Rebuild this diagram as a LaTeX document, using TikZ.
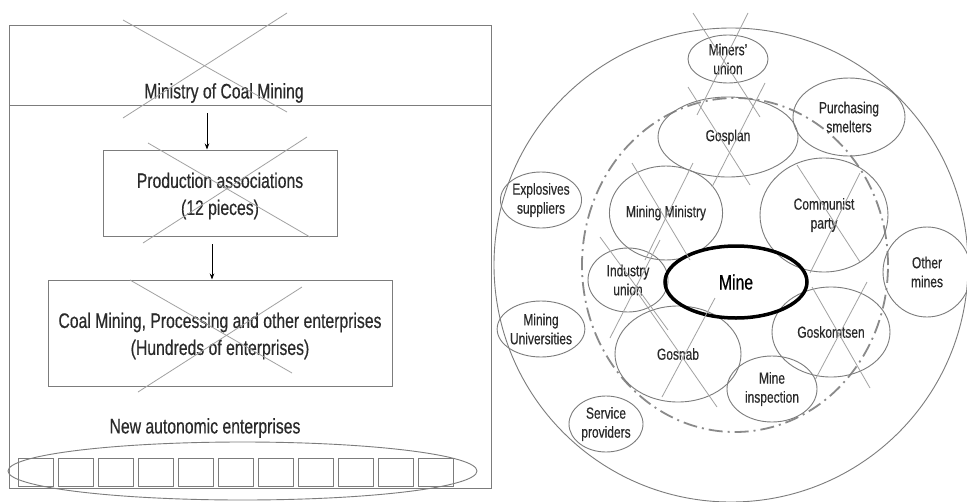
\documentclass[tikz,border=0pt]{standalone}
\usepackage{fontspec}
\setmainfont{Liberation Sans}[FakeStretch=0.75,FakeBold=0.4]
\usetikzlibrary{shapes.geometric,arrows.meta}
\definecolor{frame}{HTML}{7C7C7C}
\definecolor{strike}{HTML}{A2A2A2}
\definecolor{ink}{HTML}{2A2A2A}
\definecolor{ringgray}{HTML}{8A8A8A}
\begin{document}
\begin{tikzpicture}[x=1pt,y=-1pt,
  lefttext/.style={text=ink, font=\fontsize{21}{27}\selectfont, align=center, inner sep=0pt},
  boxnode/.style={draw=frame, line width=1pt, rectangle, inner sep=0pt},
  smallbox/.style={draw=frame, line width=0.9pt, rectangle, minimum width=35pt, minimum height=28pt, inner sep=0pt},
  org/.style={draw=frame, line width=0.9pt, ellipse, inner sep=0pt, align=center, text=ink,
              font=\fontsize{16}{19}\selectfont},
  cross/.style={draw=strike, line width=0.8pt},
  flow/.style={-{Stealth[length=6pt,width=4.5pt]}, line width=0.8pt, black},
  ring/.style={draw=ringgray, line width=1.8pt, dash pattern=on 14pt off 5pt on 2pt off 5pt}
]
\useasboundingbox (0,0) rectangle (967,501);
\fill[white] (0,0) rectangle (967,501);

% ---------------- left: hierarchy of the coal industry ----------------
\node[boxnode, minimum width=482pt, minimum height=463pt] (board) at (250,256.5) {};
\coordinate (divL) at (9,105);
\coordinate (divR) at (491,105);
\draw[draw=frame, line width=1pt] (divL) -- (divR);
\node[lefttext] (ministry) at (224,93) {Ministry of Coal Mining};

\node[boxnode, minimum width=234pt, minimum height=86pt] (prod) at (220,193) {};
\node[lefttext] (prodtext) at (220,196) {Production associations\\(12 pieces)};

\node[boxnode, minimum width=344pt, minimum height=106pt] (coal) at (220,333) {};
\node[lefttext] (coaltext) at (220,336) {Coal Mining, Processing and other enterprises\\(Hundreds of enterprises)};

\coordinate (a1) at (207,113);
\draw[flow] (a1) -- (a1 |- prod.north);
\coordinate (a2) at (212,244);
\draw[flow] (a2) -- (a2 |- coal.north);

% struck-out levels
\draw[cross] (123,20) -- (287,112);
\draw[cross] (287,13) -- (123,118);
\draw[cross] (148,143) -- (310,237);
\draw[cross] (307,137) -- (143,243);
\draw[cross] (130,280) -- (292,373);
\draw[cross] (302,287) -- (138,392);

\node[lefttext] (newent) at (205,428) {New autonomic enterprises};
\node[draw=frame, line width=0.9pt, ellipse, minimum width=469pt, minimum height=58pt, inner sep=0pt] (group) at (242.5,471) {};
\foreach \i in {0,...,10} {
  \node[smallbox] (ent\i) at ({35.5+40*\i},472) {};
}

% ---------------- right: environment of the mine ----------------
\draw[draw=frame, line width=0.9pt] (731,265) circle[radius=237pt];
\draw[ring] (735,265) ellipse[x radius=153pt, y radius=167pt];

\node[org, minimum width=80pt, minimum height=48pt] (union) at (728,59) {Miners'\\union};
\node[org, minimum width=112pt, minimum height=78pt] (smelters) at (849,117) {Purchasing\\smelters};
\node[org, minimum width=140pt, minimum height=80pt] (gosplan) at (728,137) {Gosplan};
\node[org, minimum width=74pt, minimum height=56pt] (explosives) at (541,200) {Explosives\\suppliers};
\node[org, minimum width=104pt, minimum height=94pt] (ministryM) at (666,213) {Mining Ministry};
\node[org, minimum width=128pt, minimum height=114pt] (party) at (824,215) {Communist\\party};
\node[org, minimum width=88pt, minimum height=90pt] (othermines) at (927,272) {Other\\mines};
\node[org, minimum width=80pt, minimum height=64pt] (indunion) at (628,280) {Industry\\union};
\node[org, minimum width=74pt, minimum height=56pt] (universities) at (541,329) {Mining\\Universities};
\node[org, minimum width=126pt, minimum height=96pt] (gosnab) at (678,354) {Gosnab};
\node[org, minimum width=118pt, minimum height=90pt] (goskomtsen) at (831,332) {Goskomtsen};
\node[org, minimum width=90pt, minimum height=66pt] (inspection) at (772,389) {Mine\\inspection};
\node[org, minimum width=74pt, minimum height=56pt] (service) at (606,424) {Service\\providers};
\node[draw=black, line width=3.5pt, ellipse, minimum width=142pt, minimum height=72pt, inner sep=0pt,
      font=\fontsize{21}{25}\selectfont, text=black] (mine) at (736,282) {Mine};

% struck-out authorities
\draw[cross] (693,13) -- (760,117);
\draw[cross] (748,13) -- (697,115);
\draw[cross] (688,87) -- (750,185);
\draw[cross] (765,83) -- (712,187);
\draw[cross] (632,163) -- (690,260);
\draw[cross] (693,163) -- (645,260);
\draw[cross] (600,237) -- (668,330);
\draw[cross] (660,240) -- (610,338);
\draw[cross] (637,292) -- (717,407);
\draw[cross] (715,298) -- (662,397);
\draw[cross] (797,165) -- (860,262);
\draw[cross] (860,173) -- (810,273);
\draw[cross] (812,287) -- (870,388);
\draw[cross] (867,282) -- (815,380);
\end{tikzpicture}
\end{document}
